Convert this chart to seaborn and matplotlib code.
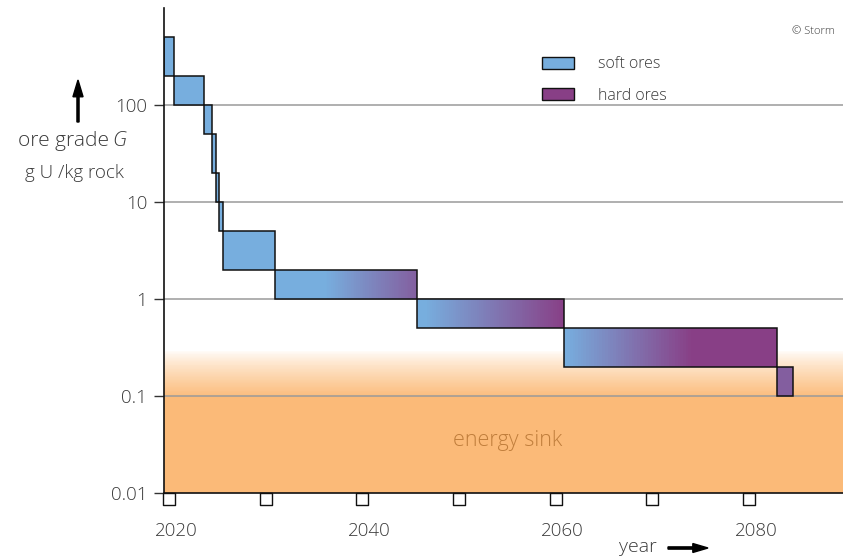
import numpy as np
import pandas as pd
import matplotlib
matplotlib.use('Agg')
import matplotlib.pyplot as plt
import seaborn as sns
from matplotlib.colors import LinearSegmentedColormap
from matplotlib.patches import Rectangle, Patch, FancyArrow
from matplotlib.ticker import NullLocator, FixedLocator
import matplotlib.transforms as mtransforms

# ore blocks: time span and grade range (g U / kg rock)
year_start = [2019.5, 2020.5, 2023.6, 2024.45, 2024.9, 2025.2, 2025.6, 2031.0, 2045.7, 2060.9, 2082.9]
year_end = [2020.5, 2023.6, 2024.45, 2024.9, 2025.2, 2025.6, 2031.0, 2045.7, 2060.9, 2082.9, 2084.5]
grade_low = [200, 100, 50, 20, 10, 5, 2, 1, 0.5, 0.2, 0.1]
grade_high = [500, 200, 100, 50, 20, 10, 5, 2, 1, 0.5, 0.2]
# share of hard ores at the start / end of each block
hard_left = [0, 0, 0, 0, 0, 0, 0, 0, 0, 0, 0.72]
hard_right = [0, 0, 0, 0, 0, 0, 0, 0.72, 1.0, 1.0, 0.72]
ramp_a = [0, 0, 0, 0, 0, 0, 0, 0.35, 0.05, 0.0, 0]
ramp_b = [1, 1, 1, 1, 1, 1, 1, 1.0, 1.0, 0.6, 1]

tick_years = [2020, 2030, 2040, 2050, 2060, 2070, 2080]
label_years = [2020, 2040, 2060, 2080]
y_ticks = [0.01, 0.1, 1, 10, 100]
y_labels = ['0.01', '0.1', '1', '10', '100']
sink_top = 0.3
sink_full = 0.1

blocks = pd.DataFrame({'start': year_start, 'end': year_end, 'low': grade_low,
                       'high': grade_high, 'h0': hard_left, 'h1': hard_right,
                       'ra': ramp_a, 'rb': ramp_b})

sns.set_style('white')
plt.rcParams['font.family'] = ['Open Sans', 'DejaVu Sans']
fw = 'light'
txt = '#3a3a3a'
blue = '#77aede'
purple = '#883f86'
orange = '#fbba78'

fig = plt.figure(figsize=(8.43, 5.59), dpi=100)
ax = fig.add_axes([164 / 843, 1 - 493 / 559, 679 / 843, 485 / 559])
ax.set_yscale('log')
ax.set_xlim(2019.5, 2089.7)
ax.set_ylim(0.01, 1000)

# energy sink
ax.fill_between([2019.5, 2089.7], 0.01, sink_full, color=orange, lw=0, zorder=0)
sink_cmap = LinearSegmentedColormap.from_list('sink', ['white', orange])
ye = np.geomspace(sink_full, sink_top, 60)
yc = np.linspace(0.93, 0, 59) ** 0.8
ax.pcolormesh([2019.5, 2089.7], ye, yc.reshape(-1, 1), cmap=sink_cmap,
              vmin=0, vmax=1, shading='flat', zorder=0, rasterized=True)
ax.text(2055, 0.035, 'energy sink', color='#c07e3c', fontsize=15.5,
        ha='center', va='center', fontweight=fw)

# grid
for yv in [0.1, 1, 10, 100]:
    ax.axhline(yv, color='#9a9a9a', lw=1.1, zorder=1)

# ore blocks with colour ramps
ore_cmap = LinearSegmentedColormap.from_list('ore', [blue, purple])
for _, b in blocks.iterrows():
    xe = np.linspace(b.start, b.end, 80)
    f = (xe[:-1] + xe[1:]) / 2
    f = (f - b.start) / (b.end - b.start)
    t = np.clip((f - b.ra) / (b.rb - b.ra), 0, 1)
    c = b.h0 + (b.h1 - b.h0) * t
    ax.pcolormesh(xe, [b.low, b.high], c.reshape(1, -1), cmap=ore_cmap,
                  vmin=0, vmax=1, shading='flat', zorder=2, rasterized=True)
    ax.add_patch(Rectangle((b.start, b.low), b.end - b.start, b.high - b.low,
                           fill=False, ec='#111111', lw=1.1, zorder=3))

# axes styling
for s in ['top', 'right']:
    ax.spines[s].set_visible(False)
for s in ['left', 'bottom']:
    ax.spines[s].set_color('#111111')
    ax.spines[s].set_linewidth(1.2)
ax.yaxis.set_major_locator(FixedLocator(y_ticks))
ax.yaxis.set_minor_locator(NullLocator())
ax.set_yticklabels(y_labels)
ax.tick_params(axis='y', length=7, width=1, color='#333333', labelsize=13.5,
               labelcolor=txt, pad=5, left=True)
ax.set_xticks(label_years)
ax.set_xticklabels([str(v) for v in label_years])
ax.tick_params(axis='x', length=0, labelsize=13.5, labelcolor=txt, pad=21)
offset = mtransforms.ScaledTranslation(7 / 100, 0, fig.dpi_scale_trans)
for lab in ax.get_xticklabels():
    lab.set_transform(lab.get_transform() + offset)
    lab.set_fontweight(fw)
for lab in ax.get_yticklabels():
    lab.set_fontweight(fw)

# hollow square ticks under the x axis
sq = pd.DataFrame({'year': tick_years,
                   'pos': [0.01 * 10 ** (-5.5 / 97)] * len(tick_years)})
sns.scatterplot(data=sq, x='year', y='pos', marker='s', s=75, facecolor='white',
                edgecolor='#111111', linewidth=1, clip_on=False, zorder=5,
                ax=ax, legend=False)
ax.set_xlabel('')
ax.set_ylabel('')

# legend
handles = [Patch(facecolor=blue, edgecolor='#111111', lw=1, label='soft ores'),
           Patch(facecolor=purple, edgecolor='#111111', lw=1, label='hard ores')]
leg = ax.legend(handles=handles, loc='upper left', bbox_to_anchor=(372 / 679, 1 - 42 / 485),
                frameon=False, fontsize=11.5, handlelength=2.0, handleheight=0.8,
                handletextpad=1.5, labelspacing=0.95, borderaxespad=0)
for t in leg.get_texts():
    t.set_color(txt)
    t.set_fontweight(fw)

# axis annotations
fig.text(813 / 843, 1 - 32 / 559, '\u00a9 Storm', fontsize=8, color=txt,
         ha='center', va='center', fontweight=fw)
fig.text(109 / 843, 1 - 141 / 559, 'ore grade', fontsize=15, color=txt,
         ha='right', va='center', fontweight=fw)
fig.text(112 / 843, 1 - 141 / 559, 'G', fontsize=15, color=txt, style='italic',
         ha='left', va='center', fontweight=fw)
fig.text(74 / 843, 1 - 173 / 559, 'g U /kg rock', fontsize=13.5, color=txt,
         ha='center', va='center', fontweight=fw)
fig.patches.append(FancyArrow(
    78 / 843, 1 - 122 / 559, 0, 42 / 559, width=0.0025, head_width=0.012,
    head_length=0.03, length_includes_head=True, color='black',
    transform=fig.transFigure, figure=fig))
fig.text(638 / 843, 1 - 547 / 559, 'year', fontsize=14, color=txt,
         ha='center', va='center', fontweight=fw)
fig.patches.append(FancyArrow(
    668 / 843, 1 - 548 / 559, 40 / 843, 0, width=0.004, head_width=0.016,
    head_length=0.018, length_includes_head=True, color='black',
    transform=fig.transFigure, figure=fig))

fig.savefig('out.png', dpi=100)
